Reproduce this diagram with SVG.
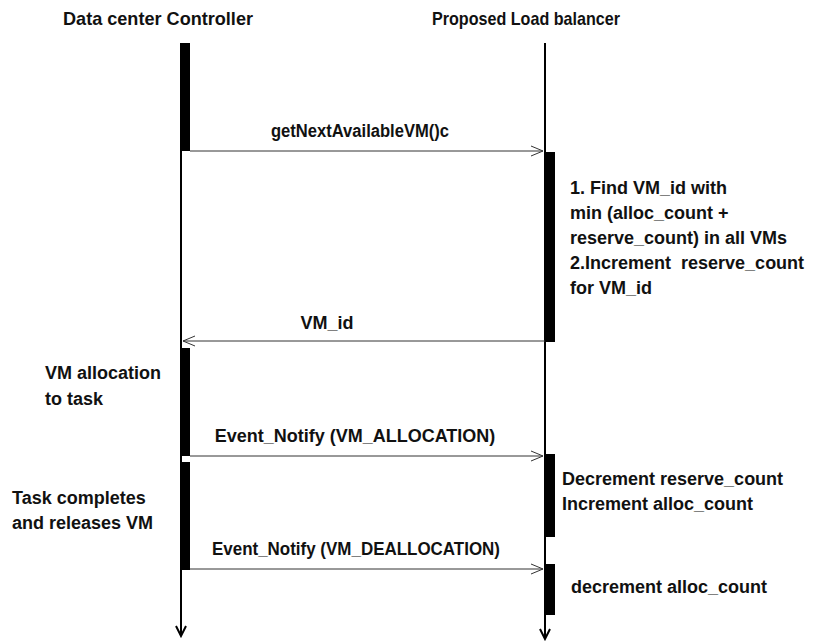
<svg xmlns="http://www.w3.org/2000/svg" width="816" height="644" viewBox="0 0 816 644">
  <style>
    text { font-family: "Liberation Sans", Arial, sans-serif; font-weight: bold; font-size: 18px; fill: #111; white-space: pre; }
    .head { font-size: 19px; }
    .mid { text-anchor: middle; }
    .life { stroke: #000; stroke-width: 2; fill: none; }
    .bar { fill: #000; }
    .msg { stroke: #333; stroke-width: 1; fill: none; }
  </style>
  <defs>
    <marker id="open" markerWidth="14" markerHeight="12" refX="13" refY="6" orient="auto" markerUnits="userSpaceOnUse">
      <path d="M1,1 L13,6 L1,11" fill="none" stroke="#333" stroke-width="1"/>
    </marker>
    <marker id="down" markerWidth="14" markerHeight="12" refX="12" refY="6" orient="auto" markerUnits="userSpaceOnUse">
      <path d="M2,1 L12,6 L2,11" fill="none" stroke="#000" stroke-width="2"/>
    </marker>
  </defs>

  <g id="controller">
    <text class="head" x="63" y="25" textLength="190" lengthAdjust="spacingAndGlyphs">Data center Controller</text>
    <line class="life" x1="181" y1="43" x2="181" y2="636" marker-end="url(#down)"/>
    <rect class="bar" x="180" y="43" width="10" height="108"/>
    <rect class="bar" x="180" y="348" width="10" height="108"/>
    <rect class="bar" x="180" y="462" width="10" height="108"/>
    <text x="45" y="379">VM allocation</text>
    <text x="45" y="405">to task</text>
    <text x="12" y="504">Task completes</text>
    <text x="12" y="529">and releases VM</text>
  </g>

  <g id="load-balancer">
    <text class="head" x="432" y="25" textLength="188" lengthAdjust="spacingAndGlyphs">Proposed Load balancer</text>
    <line class="life" x1="545" y1="43" x2="545" y2="639" marker-end="url(#down)"/>
    <rect class="bar" x="545" y="152" width="10" height="190"/>
    <rect class="bar" x="545" y="454" width="10" height="83"/>
    <rect class="bar" x="545" y="564" width="10" height="51"/>
    <text x="570" y="194">1. Find VM_id with</text>
    <text x="570" y="219">min (alloc_count +</text>
    <text x="570" y="244">reserve_count) in all VMs</text>
    <text x="570" y="269">2.Increment  reserve_count</text>
    <text x="570" y="294">for VM_id</text>
    <text x="562" y="485">Decrement reserve_count</text>
    <text x="562" y="510">Increment alloc_count</text>
    <text x="571" y="593">decrement alloc_count</text>
  </g>

  <g id="connectors">
    <line class="msg" x1="190" y1="151" x2="543" y2="151" marker-end="url(#open)"/>
    <text class="mid" x="360" y="137" textLength="178" lengthAdjust="spacingAndGlyphs">getNextAvailableVM()c</text>
    <line class="msg" x1="545" y1="341" x2="183" y2="341" marker-end="url(#open)"/>
    <text class="mid" x="327" y="329">VM_id</text>
    <line class="msg" x1="190" y1="456" x2="543" y2="456" marker-end="url(#open)"/>
    <text class="mid" x="355" y="442">Event_Notify (VM_ALLOCATION)</text>
    <line class="msg" x1="190" y1="569" x2="543" y2="569" marker-end="url(#open)"/>
    <text class="mid" x="356" y="555" textLength="288" lengthAdjust="spacingAndGlyphs">Event_Notify (VM_DEALLOCATION)</text>
  </g>
</svg>
